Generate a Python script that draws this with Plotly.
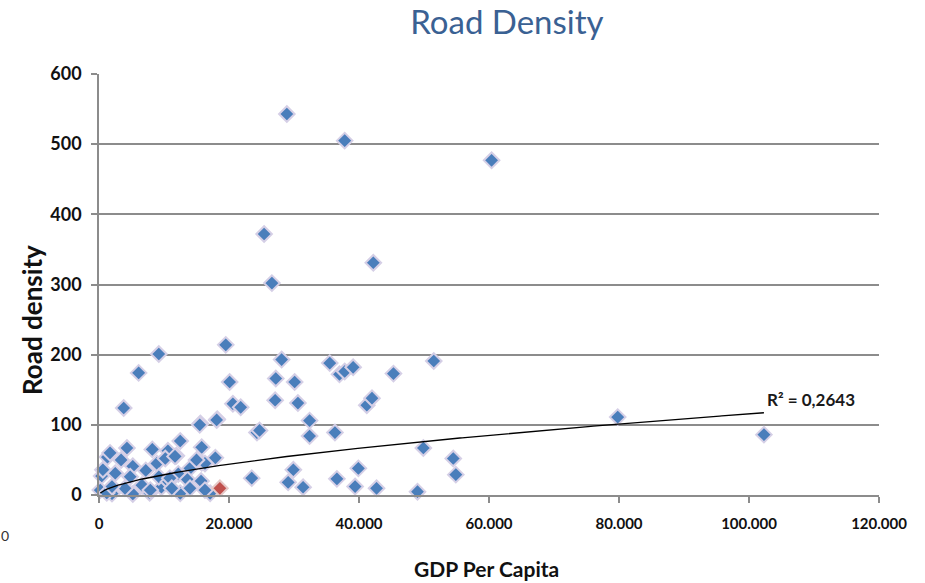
import numpy as np
import plotly.graph_objects as go

# GDP per capita (thousands) and road density for each country
gdp_k = [
    28.9, 37.8, 60.4, 25.4, 42.2, 26.6,
    6.1, 9.2, 19.5, 20.1, 28.1, 27.2, 30.1, 35.5, 37.0, 37.8, 39.1, 45.3, 51.5,
    3.8, 20.6, 21.8, 15.6, 18.2, 27.1, 30.6, 32.4, 41.2, 42.0,
    24.3, 24.7, 32.4, 36.3, 79.8, 102.3,
    23.5, 29.9, 29.1, 31.4, 36.6, 39.9, 39.4, 42.7, 49.0, 49.9, 54.5, 54.9,
    12.5, 4.3, 8.2, 10.6, 15.8, 1.3, 3.4, 5.2, 8.9, 10.2, 11.9, 15.8, 17.9,
    14.0, 0.4, 2.5, 4.8, 7.2, 9.6, 12.2, 13.6, 15.7, 12.5, 7.8, 5.2, 2.0,
    17.1, 0.2, 4.0, 6.6, 7.9, 1.2, 9.2, 10.7, 16.3, 10.9, 11.2, 14.0, 16.3,
    1.7, 0.6, 2.0, 15.0, 11.7, 18.1, 15.5,
]
road_density = [
    543, 505, 477, 372, 331, 302,
    174, 201, 214, 161, 193, 166, 161, 188, 172, 176, 182, 173, 191,
    124, 130, 125, 102, 108, 135, 131, 106, 128, 138,
    89, 92, 84, 89, 111, 86,
    24, 36, 18, 11, 23, 38, 12, 9.5, 4.7, 67, 52, 29,
    77, 67, 65, 63, 68, 54, 50, 41, 45, 52, 56, 46, 53,
    38, 27, 31, 26, 35, 11, 30, 22, 20, 2.4, 3, 1.5, 2,
    2.4, 7, 9.5, 14, 7, 3, 26, 19, 45, 24, 9.5, 9.5, 7,
    60, 36, 12, 50, 55, 107, 100,
]
# highlighted country
focus_gdp_k = [18.6]
focus_density = [9.5]

# power trendline y = TREND_COEF * x ** TREND_EXP
TREND_COEF = 0.1156
TREND_EXP = 0.60
r2_text = "R² = 0,2643"

gdp = np.array(gdp_k) * 1000.0
dens = np.array(road_density, dtype=float)

all_x = np.concatenate([gdp, np.array(focus_gdp_k) * 1000.0])
trend_x = np.linspace(all_x.min(), all_x.max(), 300)
trend_y = TREND_COEF * trend_x ** TREND_EXP

fig = go.Figure()

fig.add_trace(go.Scatter(
    x=gdp, y=dens, mode="markers",
    marker=dict(symbol="diamond", size=12, color="#4a7ebb",
                line=dict(color="#d5cfe6", width=2)),
    cliponaxis=False, showlegend=False,
))
fig.add_trace(go.Scatter(
    x=np.array(focus_gdp_k) * 1000.0, y=focus_density, mode="markers",
    marker=dict(symbol="diamond", size=12, color="#c0504d",
                line=dict(color="#e6c9c8", width=2)),
    cliponaxis=False, showlegend=False,
))
fig.add_trace(go.Scatter(
    x=trend_x, y=trend_y, mode="lines",
    line=dict(color="black", width=1.3),
    showlegend=False, hoverinfo="skip",
))

fig.add_annotation(
    x=102500, y=136, xref="x", yref="y", text=r2_text, showarrow=False,
    xanchor="left", yanchor="middle",
    font=dict(family="Lato", size=17, color="#1a1a1a", weight="bold"),
)
fig.add_annotation(
    x=-0.121, y=-0.097, xref="paper", yref="paper", text="0", showarrow=False,
    xanchor="center", yanchor="middle",
    font=dict(family="Lato", size=14, color="#333333"),
)
# axis titles
fig.add_annotation(
    x=-0.0859, y=0.4157, xref="paper", yref="paper", text="Road density",
    showarrow=False, textangle=-90, xanchor="center", yanchor="middle",
    font=dict(family="Lato", size=26, color="#111111", weight="bold"),
)
fig.add_annotation(
    x=0.497, y=-0.1734, xref="paper", yref="paper", text="GDP Per Capita",
    showarrow=False, xanchor="center", yanchor="middle",
    font=dict(family="Lato", size=21, color="#111111", weight="bold"),
)

fig.update_layout(
    width=925, height=583,
    margin=dict(l=99, r=46, t=74, b=88),
    paper_bgcolor="white", plot_bgcolor="white",
    separators=",.",
    title=dict(text="Road Density", x=0.548, xanchor="center", y=0.962, yanchor="middle",
               font=dict(family="Lato", size=33, color="#3a6193")),
    xaxis=dict(
        range=[0, 120000], dtick=20000, tick0=0, tickformat=",d",
        showgrid=False, zeroline=False, automargin=False,
        showline=True, linecolor="#8c8c8c", linewidth=1.5,
        ticks="outside", ticklen=6, tickcolor="#8c8c8c", tickwidth=1.5,
        ticklabelstandoff=8,
        tickfont=dict(family="Lato", size=15, color="#111111", weight="bold"),
    ),
    yaxis=dict(
        range=[0, 600], dtick=100, tick0=0,
        showgrid=True, gridcolor="#8c8c8c", gridwidth=1.5,
        zeroline=False, automargin=False,
        showline=True, linecolor="#8c8c8c", linewidth=1.5,
        ticks="outside", ticklen=6, tickcolor="#8c8c8c", tickwidth=1.5,
        ticklabelstandoff=6,
        tickfont=dict(family="Lato", size=18, color="#111111", weight="bold"),
    ),
)

fig.write_html("out.html")
